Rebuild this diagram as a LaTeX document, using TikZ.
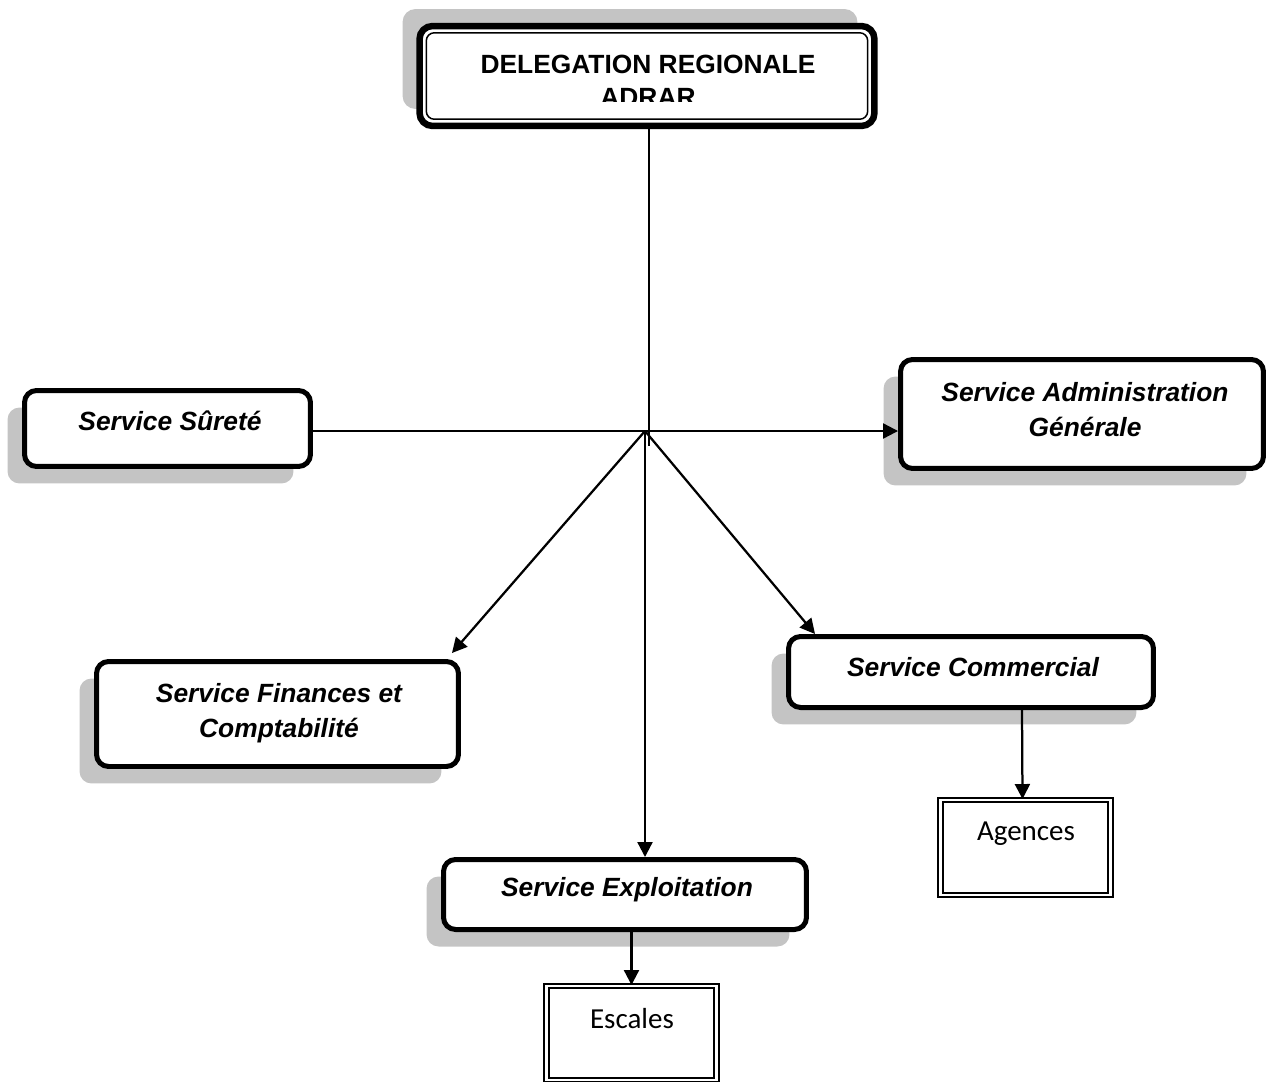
\documentclass[tikz,border=0pt]{standalone}
\usepackage{fontspec}
\setmainfont{Liberation Sans}
\newfontfamily\calibri{Carlito}
\usetikzlibrary{arrows.meta,shadows,calc}
\definecolor{shadowgray}{HTML}{C4C4C4}
\begin{document}
\begin{tikzpicture}[x=0.02cm,y=-0.02cm,
  svc box/.style={draw,rounded corners=0.24cm,line width=0.1cm,fill=white,
    drop shadow={shadow xshift=-0.34cm,shadow yshift=-0.34cm,fill=shadowgray,opacity=1}},
  head box/.style={draw,rounded corners=0.26cm,line width=0.13cm,fill=white,
    drop shadow={shadow xshift=-0.34cm,shadow yshift=0.34cm,fill=shadowgray,opacity=1}},
  svc text/.style={font=\fontsize{15}{20}\selectfont\bfseries\itshape,align=center},
  unit box/.style={draw,double,double distance=0.05cm,line width=0.04cm,fill=white},
  unit text/.style={font=\calibri\fontsize{16.5}{20}\selectfont},
  link/.style={line width=0.045cm},
  arrow/.style={link,-{Triangle[length=0.3cm,width=0.3cm]}}]

  \useasboundingbox (0,0) rectangle (1268,1082);

  % boxes
  \node[head box,minimum width=9.1cm,minimum height=2.0cm] (top) at (647,76) {};
  \draw[line width=0.03cm,rounded corners=0.16cm]
    ($(top.north west)+(10,10)$) rectangle ($(top.south east)+(-10,-10)$);
  \begin{scope}
    \clip (425,35) rectangle (870,101);
    \node[font=\fontsize{15}{18.7}\selectfont\bfseries,align=center,anchor=north,inner sep=0pt] (top-txt)
      at (648,55) {DELEGATION REGIONALE\\ADRAR};
  \end{scope}

  \node[svc box,minimum width=5.72cm,minimum height=1.52cm] (surete) at (167.5,428.5) {};
  \node[svc text] (surete-txt) at (170,421) {Service Sûreté};

  \node[svc box,minimum width=7.26cm,minimum height=2.18cm] (admin) at (1082,414) {};
  \node[svc text] (admin-txt) at (1085,409.5) {Service Administration\\Générale};

  \node[svc box,minimum width=7.24cm,minimum height=2.1cm] (finances) at (277.5,714) {};
  \node[svc text] (finances-txt) at (279,713) {Service Finances et\\Comptabilité};

  \node[svc box,minimum width=7.3cm,minimum height=1.42cm] (commercial) at (971,672) {};
  \node[svc text] (commercial-txt) at (973,667) {Service Commercial};

  \node[svc box,minimum width=7.26cm,minimum height=1.4cm] (exploitation) at (625,894.5) {};
  \node[svc text] (exploitation-txt) at (627,890) {Service Exploitation};

  \node[unit box,minimum width=3.4cm,minimum height=1.9cm] (agences) at (1025.5,847.5) {};
  \node[unit text] (agences-txt) at (1026,834) {Agences};

  \node[unit box,minimum width=3.4cm,minimum height=1.88cm] (escales) at (631.5,1033) {};
  \node[unit text] (escales-txt) at (632,1019) {Escales};

  % connectors
  \coordinate (hub) at (645,431);
  \coordinate (stub) at (649,446);
  \draw[link] (top.south -| stub) -- (stub);
  \draw[link] (surete.east |- hub) -- (hub);
  \draw[arrow] (hub) -- (hub -| admin.west);
  \draw[arrow] (hub) -- ($(finances.north east)+(-9,-6)$);
  \draw[arrow] (hub) -- ($(commercial.north west)+(29,0)$);
  \draw[arrow] (hub) -- (hub |- exploitation.north);
  \draw[arrow] ($(commercial.south)+(51,0)$) -- ($(agences.north)+(-3,0)$);
  \draw[arrow] (escales.north |- exploitation.south) -- (escales.north);
\end{tikzpicture}
\end{document}
